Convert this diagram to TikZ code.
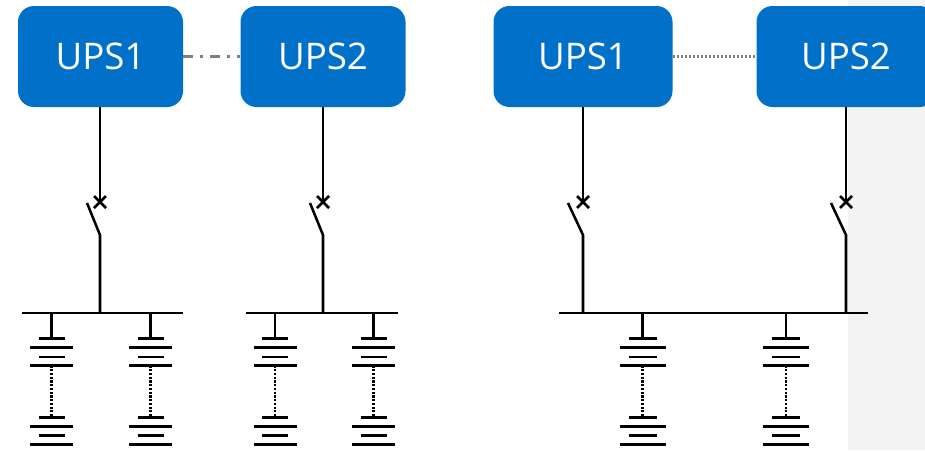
\documentclass[tikz,border=0pt]{standalone}
\usepackage{fontspec}
\setmainfont{Open Sans}
\definecolor{upsblue}{HTML}{0070C9}
\definecolor{linkgray}{HTML}{808080}
\definecolor{panelgray}{HTML}{F3F3F3}
\tikzset{
    ups/.style={
        fill=upsblue, text=white, rounded corners=12pt, inner sep=0pt,
        minimum height=75.75pt, font=\fontsize{27.5}{30}\selectfont
    },
    wire/.style={line width=1.9pt, black},
    dotwire/.style={line width=1.9pt, black, dash pattern=on 1.6pt off 1.2pt},
}
\begin{document}
\begin{tikzpicture}[x=0.75pt,y=-0.75pt]
    \useasboundingbox (0,0) rectangle (925,450);

    % Background panel
    \fill[panelgray] (848,0) rectangle (925,450);

    % UPS boxes
    \node[ups,minimum width=123.75pt] (u1) at (100.5,56.5) {UPS1};
    \node[ups,minimum width=123.75pt] (u2) at (323,56.5) {UPS2};
    \node[ups,minimum width=134.25pt] (u3) at (583,56.5) {UPS1};
    \node[ups,minimum width=134.25pt] (u4) at (846,56.5) {UPS2};

    % Links between UPS
    \draw[linkgray,line width=1.8pt,dash pattern=on 7.5pt off 5.25pt on 2.25pt off 5.25pt] (u1.east) -- (u2.west);
    \draw[linkgray,line width=1.8pt,dash pattern=on 1.8pt off 1.2pt] (u3.east) -- (u4.west);

    % Busbars
    \coordinate (b1l) at (22,313);
    \coordinate (b1r) at (183,313);
    \coordinate (b2l) at (246,313);
    \coordinate (b2r) at (398,313);
    \coordinate (b3l) at (559,313);
    \coordinate (b3r) at (868,313);
    \draw[wire] (b1l) -- (b1r);
    \draw[wire] (b2l) -- (b2r);
    \draw[wire] (b3l) -- (b3r);

    % Switches
    \foreach \name/\ups/\sx/\sw in {s1/u1/100/13,s2/u2/323/13,s3/u3/583/15,s4/u4/846/15} {
        \coordinate (\name c) at (\sx,202);
        \coordinate (\name f) at (\sx,235);
        \coordinate (\name b) at (\sx-\sw,203);
        \coordinate (\name e) at (\sx,313);
        \draw[wire] (\ups.south -| \name c) -- (\name c);
        \draw[wire] (\name b) -- (\name f) -- (\name e);
        \draw[wire] ([shift={(-6,-6)}]\name c) -- ([shift={(6,6)}]\name c);
        \draw[wire] ([shift={(-6,6)}]\name c) -- ([shift={(6,-6)}]\name c);
    }

    % Battery strings
    \foreach \name/\bx/\sh/\lg in {c1/51.5/13/21.5,c2/150.5/13/21.5,c3/275/13/21.5,c4/373.5/13/21.5,c5/642.5/14/23,c6/786/14/23} {
        \coordinate (\name t) at (\bx,313);
        \coordinate (\name a) at (\bx,338.5);
        \coordinate (\name d) at (\bx,365.5);
        \coordinate (\name g) at (\bx,417.5);
        \draw[wire] (\name t) -- (\name a);
        \draw[dotwire] (\name d) -- (\name g);
        \foreach \py/\pw in {338.5/\sh,347.5/\lg,357/\sh,365.5/\lg,417.5/\sh,426.5/\lg,435.5/\sh,444.5/\lg}
            \draw[wire] (\bx-\pw,\py) -- (\bx+\pw,\py);
    }
\end{tikzpicture}
\end{document}
